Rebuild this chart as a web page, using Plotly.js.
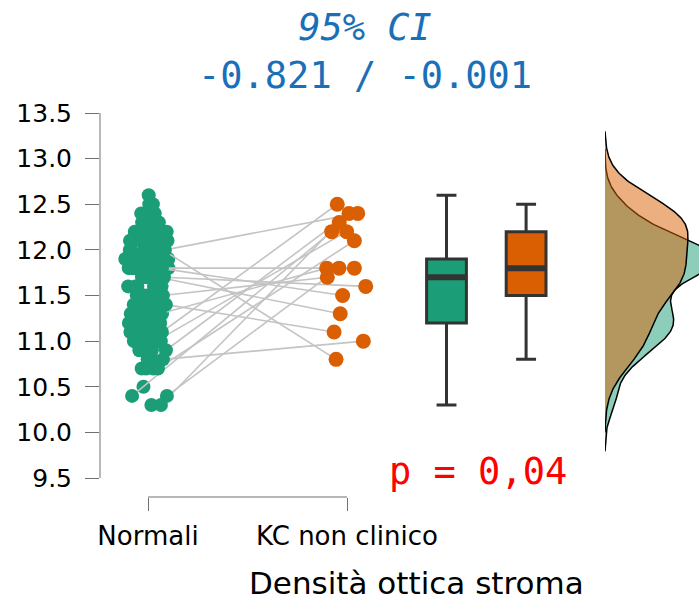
<!DOCTYPE html>
<html><head><meta charset="utf-8">
<script src="https://cdn.plot.ly/plotly-3.0.1.min.js"></script>
<style>html,body{margin:0;padding:0;background:#fff}#chart{width:699px;height:600px}</style>
</head><body><div id="chart"></div>
<script>
// ---------- data ----------
const categories = ['Normali', 'KC non clinico'];
const yTickValues = [9.5, 10.0, 10.5, 11.0, 11.5, 12.0, 12.5, 13.0, 13.5];

// Normali values that have no pair
const normaliUnpaired = [
  10.3, 10.5, 10.7, 10.7, 10.7, 10.8, 10.8, 10.9, 10.9, 10.9, 10.9,
  11.0, 11.0, 11.0, 11.0, 11.0, 11.0,
  11.1, 11.1, 11.1, 11.1, 11.1, 11.1, 11.1,
  11.2, 11.2, 11.2, 11.2, 11.2, 11.2, 11.2, 11.2, 11.2,
  11.3, 11.3, 11.3, 11.3, 11.3, 11.3, 11.3,
  11.4, 11.4, 11.4, 11.4, 11.4,
  11.5, 11.5, 11.5, 11.5, 11.5, 11.5,
  11.6, 11.6, 11.6, 11.6, 11.6, 11.6, 11.6,
  11.7, 11.7, 11.7,
  11.8, 11.8, 11.8, 11.8, 11.8, 11.8, 11.8, 11.8, 11.8, 11.8, 11.8, 11.8,
  11.9, 11.9, 11.9, 11.9, 11.9, 11.9, 11.9, 11.9, 11.9, 11.9, 11.9,
  11.9, 11.9, 11.9, 11.9, 11.9, 11.9, 11.9, 11.9, 11.9, 11.9, 11.9,
  12.0, 12.0, 12.0, 12.0, 12.0, 12.0, 12.0, 12.0,
  12.1, 12.1, 12.1, 12.1, 12.1, 12.1, 12.1, 12.1,
  12.2, 12.2, 12.2, 12.2, 12.2, 12.2, 12.2,
  12.3, 12.3, 12.3, 12.3,
  12.4, 12.4, 12.4,
  12.5, 12.5,
  12.6
];
// Paired observations (Normali[i] <-> KC non clinico[i])
const normaliPaired = [10.4, 10.4, 10.3, 10.9, 10.7, 11.1, 11.0, 11.3, 11.5, 12.0, 11.8, 11.7, 11.8, 11.7, 11.4, 10.8, 12.0];
const kcNonClinico  = [12.2, 11.8, 12.3, 12.4, 12.1, 12.5, 12.2, 11.8, 11.7, 12.4, 11.8, 11.6, 11.5, 11.3, 11.1, 11.0, 10.8];
// horizontal jitter of the paired dots, in category units
const normaliPairedJitter = [-0.080, 0.095, 0.065, 0.090, 0.050, 0.070, 0.040, 0.060, 0.075, 0.085, 0.070, 0.080, 0.060, 0.050, 0.090, 0.075, 0.075];
const kcJitter            = [-0.077, -0.040, -0.039, 0.010, 0.037, -0.049, -0.002, -0.102, -0.099, 0.054, 0.037, 0.094, -0.022, -0.034, -0.065, 0.082, -0.055];

const titleText = '<i>95% CI</i><br>-0.821 / -0.001';
const pText = 'p = 0,04';
const xTitle = 'Densità ottica stroma';

// ---------- styles ----------
const GREEN = '#1b9e77', ORANGE = '#d95f02';
const BOXLINE = '#333333';
const catPos = [1, 2];
const boxPos = [2.5, 2.9];
const BOXW = 0.2;

const normaliAll = normaliUnpaired.concat(normaliPaired);

function sorted(a){ return a.slice().sort((p,q)=>p-q); }
function q7(s, p){ const h=(s.length-1)*p, lo=Math.floor(h); const hi=Math.min(lo+1,s.length-1); return s[lo]+(h-lo)*(s[hi]-s[lo]); }
function bwNrd0(a){
  const s=sorted(a), n=s.length, m=s.reduce((x,y)=>x+y,0)/n;
  const sd=Math.sqrt(s.reduce((x,y)=>x+(y-m)*(y-m),0)/(n-1));
  const iqr=q7(s,0.75)-q7(s,0.25);
  return 0.9*Math.min(sd, iqr/1.34)*Math.pow(n,-0.2);
}
function kde(a){
  const bw=bwNrd0(a), mn=Math.min(...a), mx=Math.max(...a);
  const lo=mn-3*bw, hi=mx+3*bw, N=300, ys=[], ds=[];
  for(let i=0;i<N;i++){
    const y=lo+(hi-lo)*i/(N-1); let d=0;
    for(const v of a){ const z=(y-v)/bw; d+=Math.exp(-0.5*z*z); }
    ys.push(y); ds.push(d/(a.length*bw*Math.sqrt(2*Math.PI)));
  }
  return {x:[0].concat(ds,[0]), y:[lo].concat(ys,[hi]), peak:Math.max(...ds)};
}
const kdeN = kde(normaliAll), kdeK = kde(kcNonClinico);

// connecting lines
const lx=[], ly=[];
for(let i=0;i<normaliPaired.length;i++){
  lx.push(catPos[0]+normaliPairedJitter[i], catPos[1]+kcJitter[i], null);
  ly.push(normaliPaired[i], kcNonClinico[i], null);
}

const traces = [
  // unpaired Normali dots, jittered by the library
  {type:'box', y:normaliUnpaired, x0:catPos[0], width:0.23, boxpoints:'all', jitter:1, pointpos:0,
   fillcolor:'rgba(0,0,0,0)', line:{color:'rgba(0,0,0,0)', width:0}, whiskerwidth:0,
   marker:{color:GREEN, size:14, line:{width:0}}, hoverinfo:'y', showlegend:false},
  // real boxplots
  {type:'box', y:normaliAll, x0:boxPos[0], width:BOXW, boxpoints:false, quartilemethod:'inclusive',
   fillcolor:GREEN, line:{color:BOXLINE, width:3}, whiskerwidth:0.5, showlegend:false},
  {type:'box', y:kcNonClinico, x0:boxPos[1], width:BOXW, boxpoints:false, quartilemethod:'inclusive',
   fillcolor:ORANGE, line:{color:BOXLINE, width:3}, whiskerwidth:0.5, showlegend:false},
  // paired lines
  {type:'scatter', mode:'lines', x:lx, y:ly, line:{color:'#c4c4c4', width:1.6}, hoverinfo:'skip', showlegend:false},
  {type:'scatter', mode:'markers', x:normaliPaired.map((v,i)=>catPos[0]+normaliPairedJitter[i]), y:normaliPaired,
   marker:{color:GREEN, size:14}, showlegend:false},
  {type:'scatter', mode:'markers', x:kcNonClinico.map((v,i)=>catPos[1]+kcJitter[i]), y:kcNonClinico,
   marker:{color:ORANGE, size:15}, showlegend:false},
  // thick medians
  {type:'scatter', mode:'lines', x:[boxPos[0]-0.097, boxPos[0]+0.097], y:[q7(sorted(normaliAll),0.5), q7(sorted(normaliAll),0.5)],
   line:{color:BOXLINE, width:6}, hoverinfo:'skip', showlegend:false},
  {type:'scatter', mode:'lines', x:[boxPos[1]-0.097, boxPos[1]+0.097], y:[q7(sorted(kcNonClinico),0.5), q7(sorted(kcNonClinico),0.5)],
   line:{color:BOXLINE, width:6}, hoverinfo:'skip', showlegend:false},
  // densities
  {type:'scatter', mode:'lines', xaxis:'x2', yaxis:'y', x:kdeN.x, y:kdeN.y, fill:'toself',
   fillcolor:'rgba(27,158,119,0.5)', line:{color:'#000', width:1.5}, hoverinfo:'skip', showlegend:false},
  {type:'scatter', mode:'lines', xaxis:'x2', yaxis:'y', x:kdeK.x, y:kdeK.y, fill:'toself',
   fillcolor:'rgba(217,95,2,0.5)', line:{color:'#000', width:1.5}, hoverinfo:'skip', showlegend:false}
];

const W=699, H=600, L=100, R=0, T=100, B=103;
const PW=W-L-R, PH=H-T-B;
const pxPerCat = 199;
const xLeft = catPos[0] - (148-L)/pxPerCat;
const xRight = catPos[0] + (590-148)/pxPerCat;
const pxPerY = 91.25;
const yLow = 9.5 - (497-478)/pxPerY;
const yHigh = 13.5 + (113-100)/pxPerY;

const layout = {
  width:W, height:H, margin:{l:L, r:R, t:T, b:B},
  paper_bgcolor:'#fff', plot_bgcolor:'#fff',
  boxmode:'overlay', showlegend:false,
  font:{family:'DejaVu Sans', color:'#000'},
  xaxis:{domain:[0,(590-L)/PW], range:[xLeft,xRight], tickvals:catPos, ticktext:categories,
    ticks:'outside', ticklen:13, tickwidth:1, tickcolor:'#707070', showline:false, showgrid:false, zeroline:false,
    tickfont:{family:'DejaVu Sans', size:26, color:'#000'}, ticklabelstandoff:3},
  xaxis2:{domain:[(605-L)/PW,1], range:[0, kdeK.peak*94/83], visible:false, anchor:'y', showgrid:false, zeroline:false},
  yaxis:{range:[yLow,yHigh], tickvals:yTickValues, tickformat:'.1f', ticks:'outside', ticklen:14, tickwidth:1,
    tickcolor:'#707070', showline:false, showgrid:false, zeroline:false,
    tickfont:{family:'DejaVu Sans', size:25, color:'#000'}, ticklabelstandoff:8},
  shapes:[
    {type:'line', xref:'paper', yref:'y', x0:0, x1:0, y0:yTickValues[0], y1:yTickValues[yTickValues.length-1], line:{color:'#707070', width:1}},
    {type:'line', xref:'x', yref:'paper', x0:catPos[0], x1:catPos[1], y0:0, y1:0, line:{color:'#707070', width:1}}
  ],
  annotations:[
    {text:titleText, xref:'paper', yref:'paper', x:(365-L)/PW, y:(497-52)/PH, xanchor:'center', yanchor:'middle',
     showarrow:false, font:{family:'DejaVu Sans Mono', size:37, color:'#1a70b8'}},
    {text:pText, xref:'paper', yref:'paper', x:(477.5-L)/PW, y:(497-471)/PH, xanchor:'center', yanchor:'middle',
     showarrow:false, font:{family:'DejaVu Sans Mono', size:37, color:'#ff0000'}},
    {text:xTitle, xref:'paper', yref:'paper', x:(416-L)/PW, y:(497-583)/PH, xanchor:'center', yanchor:'middle',
     showarrow:false, font:{family:'DejaVu Sans', size:31, color:'#000'}}
  ]
};

Plotly.newPlot('chart', traces, layout, {displayModeBar:false, staticPlot:true});
</script>
</body></html>
